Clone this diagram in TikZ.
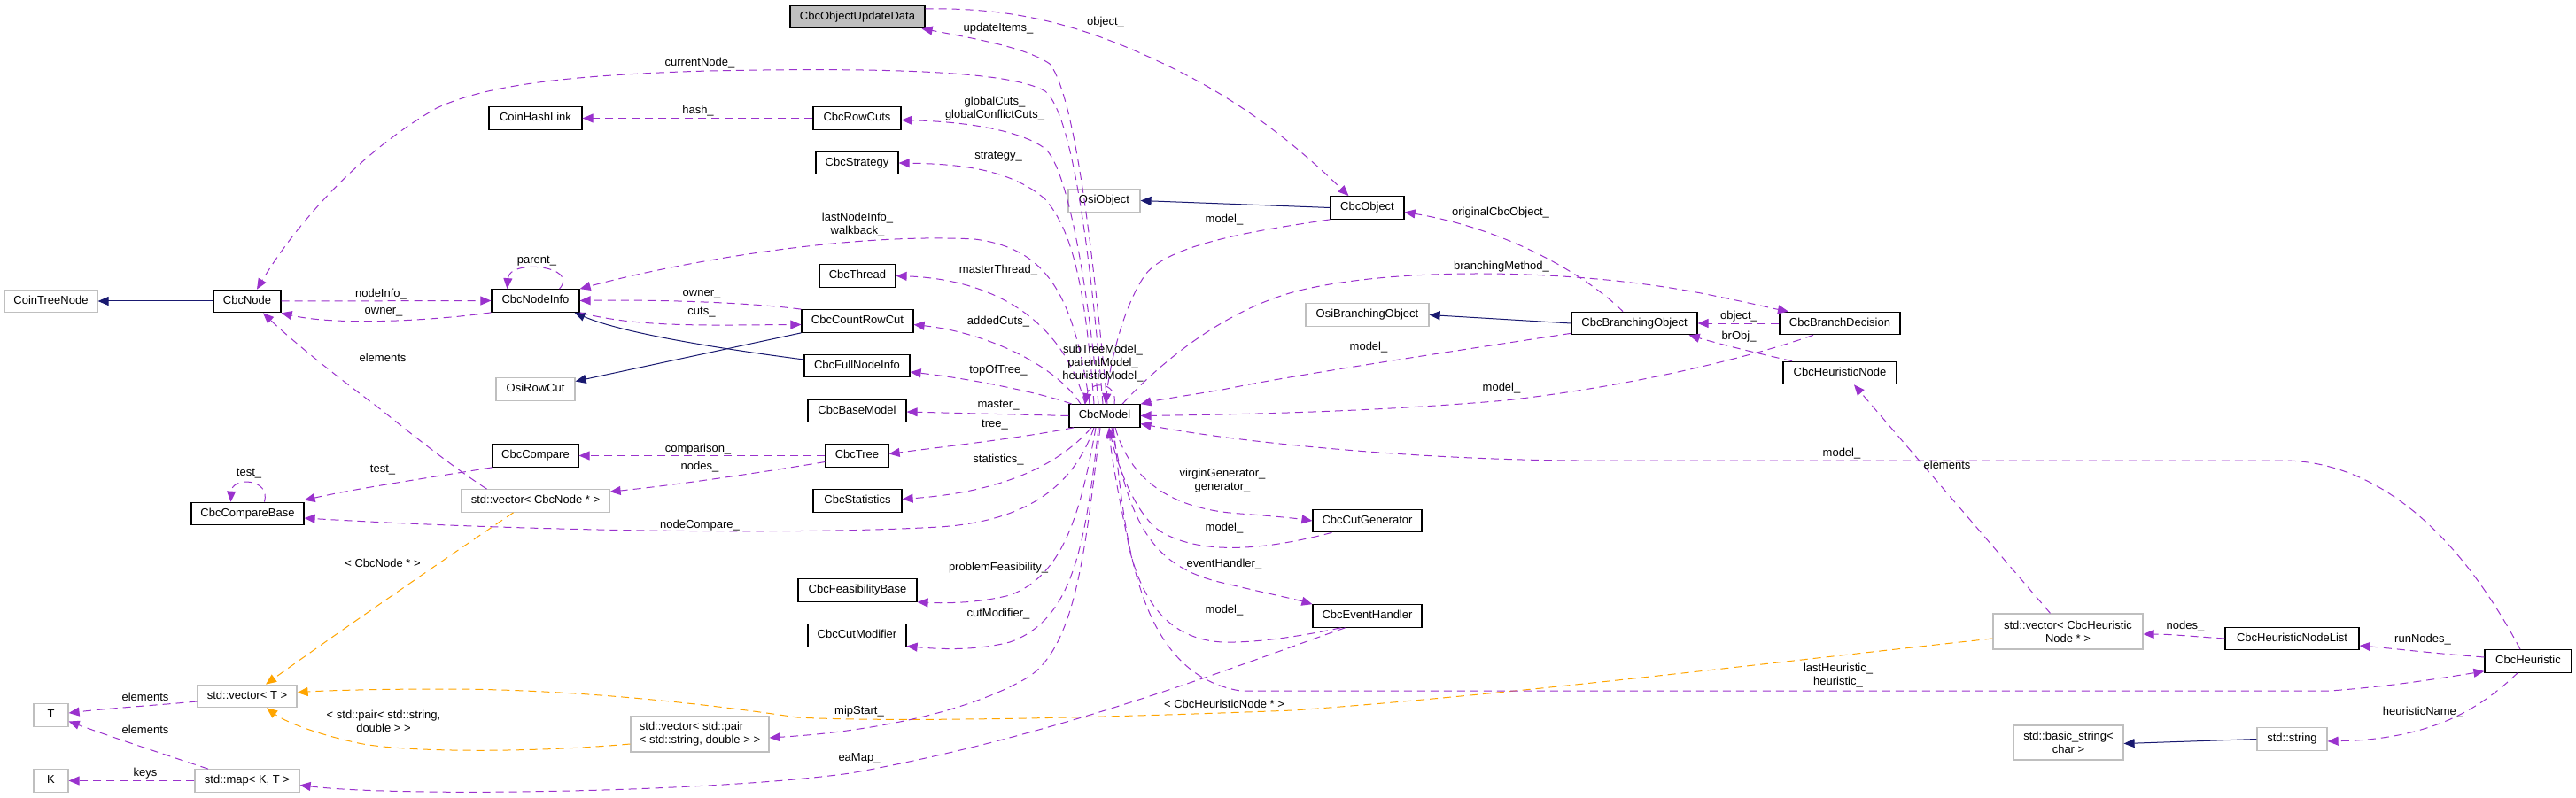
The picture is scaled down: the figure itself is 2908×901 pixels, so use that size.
\documentclass[tikz,border=0pt]{standalone}
\usepackage{fontspec}
\setmainfont{Liberation Sans}
\usetikzlibrary{arrows.meta}
\definecolor{memc}{RGB}{154,50,205}
\definecolor{tplc}{RGB}{255,165,0}
\definecolor{inhc}{RGB}{25,25,112}
\definecolor{extc}{RGB}{191,191,191}
\begin{document}
\begin{tikzpicture}[x=1pt,y=-1pt,
  font=\fontsize{13pt}{15pt}\selectfont,
  box/.style={draw=black, line width=1.2pt, minimum height=25.5pt, inner sep=0pt, text height=9.4pt, text depth=2.6pt, fill=white},
  extbox/.style={box, draw=extc},
  box2/.style={draw=extc, line width=1.2pt, inner sep=0pt, minimum height=40pt, align=center, fill=white},
  memedge/.style={draw=memc, line width=1pt, dash pattern=on 9pt off 6pt, -{Triangle[length=12pt,width=10pt,fill=memc]}},
  tpledge/.style={draw=tplc, line width=1pt, dash pattern=on 9pt off 6pt, -{Triangle[length=12pt,width=10pt,fill=tplc]}},
  inhedge/.style={draw=inhc, line width=1pt, -{Triangle[length=12pt,width=10pt,fill=inhc]}},
  lbl/.style={inner sep=0pt, align=center}
]
\useasboundingbox (0,0) rectangle (2908,901);
\fill[white] (0,0) rectangle (2908,901);

% ---------- nodes ----------
\node[extbox, minimum width=105] (CoinTreeNode) at (57.5,340) {CoinTreeNode};
\node[box, minimum width=76] (CbcNode) at (279,340) {CbcNode};
\node[box, minimum width=152, fill=extc] (CbcOUD) at (968,19) {CbcObjectUpdateData};
\node[box, minimum width=105] (CoinHashLink) at (604.5,133.5) {CoinHashLink};
\node[box, minimum width=99] (CbcRowCuts) at (967.5,133.5) {CbcRowCuts};
\node[box, minimum width=93] (CbcStrategy) at (967.5,184) {CbcStrategy};
\node[extbox, minimum width=81] (OsiObject) at (1246.5,226.5) {OsiObject};
\node[box, minimum width=83] (CbcObject) at (1543.5,234.5) {CbcObject};
\node[box, minimum width=99] (CbcNodeInfo) at (604.5,339.5) {CbcNodeInfo};
\node[box, minimum width=86] (CbcThread) at (968,311.5) {CbcThread};
\node[box, minimum width=126] (CbcCountRowCut) at (968,362.5) {CbcCountRowCut};
\node[box, minimum width=119] (CbcFullNodeInfo) at (967.5,413) {CbcFullNodeInfo};
\node[extbox, minimum width=89] (OsiRowCut) at (604.5,439.5) {OsiRowCut};
\node[box, minimum width=111] (CbcBaseModel) at (967.5,464) {CbcBaseModel};
\node[box, minimum width=80] (CbcModel) at (1247,469.5) {CbcModel};
\node[extbox, minimum width=139] (OsiBranchingObject) at (1543.5,355.5) {OsiBranchingObject};
\node[box, minimum width=142] (CbcBranchingObject) at (1845,365) {CbcBranchingObject};
\node[box, minimum width=136] (CbcBranchDecision) at (2077,365) {CbcBranchDecision};
\node[box, minimum width=128] (CbcHeuristicNode) at (2077,421) {CbcHeuristicNode};
\node[box, minimum width=127] (CbcCompareBase) at (279.5,580) {CbcCompareBase};
\node[box, minimum width=97] (CbcCompare) at (604.5,514.5) {CbcCompare};
\node[extbox, minimum width=167] (VecNode) at (604.5,565.5) {std::vector< CbcNode * >};
\node[box, minimum width=71] (CbcTree) at (967.5,514.5) {CbcTree};
\node[box, minimum width=100] (CbcStatistics) at (968,565.5) {CbcStatistics};
\node[box, minimum width=134] (CbcFeasibilityBase) at (968,666.5) {CbcFeasibilityBase};
\node[box, minimum width=111] (CbcCutModifier) at (967.5,717.5) {CbcCutModifier};
\node[extbox, minimum width=112] (VecT) at (279,786) {std::vector< T >};
\node[extbox, minimum width=39] (Tn) at (57.5,807.5) {T};
\node[extbox, minimum width=39] (Kn) at (57.5,881.5) {K};
\node[extbox, minimum width=118] (StdMap) at (279,881.5) {std::map< K, T >};
\node[box2, minimum width=156, align=left] (VecPair) at (790,829) {std::vector< std::pair\\< std::string, double > >};
\node[box, minimum width=123] (CbcCutGenerator) at (1543.5,588) {CbcCutGenerator};
\node[box, minimum width=123] (CbcEventHandler) at (1543.5,695.5) {CbcEventHandler};
\node[box2, minimum width=169] (VecHN) at (2334.5,713) {std::vector< CbcHeuristic\\Node * >};
\node[box2, minimum width=124, minimum height=39] (BasicString) at (2335,838.5) {std::basic\_string<\\char >};
\node[box, minimum width=151] (CbcHeuristicNodeList) at (2587.5,721) {CbcHeuristicNodeList};
\node[box, minimum width=98] (CbcHeuristic) at (2854,746.5) {CbcHeuristic};
\node[extbox, minimum width=79] (StdString) at (2587.5,834.5) {std::string};

% ---------- inheritance ----------
\draw[inhedge] (CbcNode.west) -- (CoinTreeNode.east);
\draw[inhedge] (CbcObject.west) -- (OsiObject.east);
\draw[inhedge] (CbcBranchingObject.west) -- (OsiBranchingObject.east);
\draw[inhedge] ([yshift=7pt]CbcFullNodeInfo.west) .. controls (800,392) and (700,375) .. ([xshift=44pt]CbcNodeInfo.south);
\draw[inhedge] (CbcCountRowCut.south west) -- ([yshift=9pt]OsiRowCut.east);
\draw[inhedge] (StdString.west) -- ([yshift=-1pt]BasicString.east);

% ---------- template instances ----------
\draw[tpledge] ([xshift=-25pt]VecNode.south) .. controls (530,612) and (380,715) .. ([xshift=21pt]VecT.north);
\draw[tpledge] ([yshift=-11pt]VecPair.west) .. controls (600,850) and (450,850) .. (400,838) .. controls (355,828) and (322,815) .. ([xshift=22pt]VecT.south);
\draw[tpledge] ([yshift=-8pt]VecHN.west) .. controls (2000,748) and (1700,785) .. (1460,802) .. controls (1200,812) and (1000,815) .. (900,810) .. controls (800,795) and (650,778) .. (500,778) .. controls (420,778) and (360,780) .. ([yshift=4pt]VecT.east);

% ---------- members ----------
\draw[memedge] (CbcNode.east) -- (CbcNodeInfo.west);
\draw[memedge] (CbcNodeInfo.south west) .. controls (490,362) and (380,368) .. (CbcNode.south east);
\draw[memedge] ([xshift=27pt]CbcNodeInfo.north) .. controls (655,300) and (575,292) .. ([xshift=-32pt]CbcNodeInfo.north);
\draw[memedge] ([xshift=-2pt]CbcModel.north) .. controls (1232,300) and (1212,130) .. (1180,103) .. controls (1140,80) and (1000,76) .. (800,80) .. controls (620,85) and (540,100) .. (493,122) .. controls (400,175) and (330,260) .. ([xshift=11pt]CbcNode.north);
\draw[memedge] (CbcRowCuts.west) -- (CoinHashLink.east);
\draw[memedge] ([xshift=-7pt]CbcModel.north) .. controls (1228,320) and (1205,190) .. (1180,168) .. controls (1150,145) and (1080,137) .. ([yshift=-2pt]CbcRowCuts.east);
\draw[memedge] ([xshift=-12pt]CbcModel.north) .. controls (1225,320) and (1210,260) .. (1180,225) .. controls (1140,190) and (1080,185) .. (CbcStrategy.east);
\draw[memedge] ([xshift=3pt]CbcModel.north) .. controls (1235,300) and (1215,110) .. (1185,72) .. controls (1160,55) and (1110,45) .. ([xshift=-4pt]CbcOUD.south east);
\draw[memedge] ([yshift=9pt]CbcOUD.east) .. controls (1150,8) and (1230,30) .. (1330,80) .. controls (1420,125) and (1480,180) .. ([xshift=-21pt]CbcObject.north);
\draw[memedge] (CbcObject.south west) .. controls (1420,260) and (1320,275) .. (1293,310) .. controls (1265,350) and (1252,420) .. ([xshift=1pt]CbcModel.north);
\draw[memedge] ([xshift=-17pt]CbcModel.north) .. controls (1212,330) and (1180,280) .. (1100,270) .. controls (950,262) and (750,300) .. (CbcNodeInfo.north east);
\draw[memedge] ([xshift=-22pt]CbcModel.north) .. controls (1200,360) and (1120,315) .. (CbcThread.east);
\draw[memedge] (CbcCountRowCut.north west) .. controls (850,342) and (750,338) .. (CbcNodeInfo.east);
\draw[memedge] (CbcNodeInfo.south east) .. controls (720,370) and (800,367) .. ([yshift=-4pt]CbcCountRowCut.west);
\draw[memedge] ([xshift=-27pt]CbcModel.north) .. controls (1190,410) and (1110,375) .. ([yshift=-4pt]CbcCountRowCut.east);
\draw[memedge] ([xshift=-37pt]CbcModel.north) .. controls (1180,445) and (1100,428) .. ([yshift=-7pt]CbcFullNodeInfo.east);
\draw[memedge] ([xshift=11pt]CbcModel.north) .. controls (1262,430) and (1230,430) .. ([xshift=-22pt]CbcModel.north);
\draw[memedge] (CbcModel.west) -- ([yshift=-1pt]CbcBaseModel.east);
\draw[memedge] ([xshift=-35pt]CbcModel.south) .. controls (1150,495) and (1060,505) .. ([yshift=2pt]CbcTree.east);
\draw[memedge] ([xshift=-15pt]CbcModel.south) .. controls (1200,520) and (1140,555) .. ([yshift=2pt]CbcStatistics.east);
\draw[memedge] ([xshift=-12pt]CbcModel.south) .. controls (1215,540) and (1170,588) .. (1060,595) .. controls (900,604) and (600,600) .. ([yshift=-5pt]CbcCompareBase.east);
\draw[memedge] ([xshift=-10pt]CbcModel.south) .. controls (1220,580) and (1200,650) .. (1140,672) .. controls (1100,682) and (1060,681) .. (CbcFeasibilityBase.south east);
\draw[memedge] ([xshift=-7pt]CbcModel.south) .. controls (1225,620) and (1210,700) .. (1140,725) .. controls (1100,735) and (1060,733) .. ([yshift=-12pt]CbcCutModifier.east);
\draw[memedge] ([xshift=-5pt]CbcModel.south) .. controls (1225,620) and (1215,730) .. (1160,765) .. controls (1100,800) and (1000,825) .. ([yshift=-4pt]VecPair.east);
\draw[memedge] (CbcTree.west) -- (CbcCompare.east);
\draw[memedge] ([yshift=-7pt]CbcTree.west) .. controls (850,535) and (760,548) .. ([yshift=-3pt]VecNode.north east);
\draw[memedge] (CbcCompare.south west) .. controls (480,540) and (400,552) .. ([yshift=2pt]CbcCompareBase.north east);
\draw[memedge] ([xshift=19pt]CbcCompareBase.north) .. controls (306,540) and (262,538) .. ([xshift=-19pt]CbcCompareBase.north);
\draw[memedge] ([xshift=-55pt]VecNode.north) .. controls (500,520) and (440,470) .. (423,457) .. controls (380,425) and (330,385) .. ([xshift=18pt]CbcNode.south);
\draw[memedge] ([yshift=-6pt]VecT.west) .. controls (180,796) and (120,800) .. ([yshift=2.5pt]Tn.east);
\draw[memedge] ([xshift=-44pt]StdMap.north) .. controls (180,850) and (120,830) .. ([yshift=-7pt]Tn.east);
\draw[memedge] (StdMap.west) -- (Kn.east);
\draw[memedge] ([xshift=-25pt]CbcEventHandler.south) .. controls (1400,750) and (1200,830) .. (960,873) .. controls (800,895) and (450,900) .. ([yshift=-5pt]StdMap.east);
\draw[memedge] ([xshift=12pt]CbcModel.south) .. controls (1275,540) and (1320,575) .. (1400,580) .. controls (1440,583) and (1460,585) .. (CbcCutGenerator.west);
\draw[memedge] ([xshift=-40pt]CbcCutGenerator.south) .. controls (1440,618) and (1360,630) .. (1310,600) .. controls (1280,580) and (1260,520) .. ([xshift=5pt]CbcModel.south);
\draw[memedge] ([xshift=8pt]CbcModel.south) .. controls (1275,590) and (1300,640) .. (1380,658) .. controls (1430,670) and (1460,676) .. (CbcEventHandler.north west);
\draw[memedge] ([xshift=-30pt]CbcEventHandler.south) .. controls (1470,718) and (1420,726) .. (1380,725) .. controls (1320,722) and (1290,680) .. (1275,620) .. controls (1265,570) and (1255,520) .. ([xshift=5pt]CbcModel.south);
\draw[memedge] ([xshift=10pt]CbcModel.south) .. controls (1270,600) and (1280,760) .. (1400,780) -- (2630,780) .. controls (2700,775) and (2760,765) .. ([yshift=2pt]CbcHeuristic.south west);
\draw[memedge] ([xshift=20pt]CbcModel.north) .. controls (1300,420) and (1380,345) .. (1480,325) .. controls (1600,300) and (1800,305) .. (1940,335) .. controls (1980,343) and (2000,348) .. ([xshift=-58pt]CbcBranchDecision.north);
\draw[memedge] ([xshift=-13pt]CbcBranchingObject.north) .. controls (1790,310) and (1700,258) .. ([yshift=-5pt]CbcObject.east);
\draw[memedge] ([yshift=2pt]CbcBranchingObject.south west) .. controls (1650,395) and (1450,425) .. (1380,440) .. controls (1330,448) and (1305,452) .. (CbcModel.north east);
\draw[memedge] ([xshift=-30pt]CbcBranchDecision.south) .. controls (1980,402) and (1850,435) .. (1700,452) .. controls (1550,465) and (1400,468) .. (CbcModel.east);
\draw[memedge] ([xshift=-9pt]CbcHeuristic.north) .. controls (2780,610) and (2690,522) .. (2580,520) -- (1780,520) .. controls (1600,519) and (1400,500) .. ([yshift=-9pt]CbcModel.east);
\draw[memedge] (CbcBranchDecision.west) -- (CbcBranchingObject.east);
\draw[memedge] ([xshift=-54pt]CbcHeuristicNode.north) .. controls (1980,398) and (1940,388) .. ([xshift=-10pt]CbcBranchingObject.south east);
\draw[memedge] ([xshift=-20pt]VecHN.north) -- ([xshift=16pt]CbcHeuristicNode.south);
\draw[memedge] (CbcHeuristicNodeList.west) .. controls (2480,719) and (2450,716) .. ([yshift=-3pt]VecHN.east);
\draw[memedge] ([yshift=4.5pt]CbcHeuristic.west) .. controls (2740,737) and (2700,732) .. ([yshift=-8pt]CbcHeuristicNodeList.east);
\draw[memedge] ([xshift=-12pt]CbcHeuristic.south) .. controls (2800,800) and (2750,830) .. (2660,836) -- ([yshift=-2.5pt]StdString.east);

% ---------- labels ----------
\node[lbl] (l1) at (430,332) {nodeInfo\_};
\node[lbl] (l2) at (433,352) {owner\_};
\node[lbl] (l3) at (432,404) {elements};
\node[lbl] (l4) at (606,295) {parent\_};
\node[lbl] (l5) at (790,71) {currentNode\_};
\node[lbl] (l6) at (788,125) {hash\_};
\node[lbl] (l7) at (1127,32) {updateItems\_};
\node[lbl] (l8) at (1248,25) {object\_};
\node[lbl] (l9) at (1123,123) {globalCuts\_\\globalConflictCuts\_};
\node[lbl] (l10) at (1127,177) {strategy\_};
\node[lbl] (l11) at (1382,248) {model\_};
\node[lbl] (l12) at (968,254) {lastNodeInfo\_\\walkback\_};
\node[lbl] (l13) at (1127,305) {masterThread\_};
\node[lbl] (l14) at (792,332) {owner\_};
\node[lbl] (l15) at (792,353) {cuts\_};
\node[lbl] (l16) at (1127,363) {addedCuts\_};
\node[lbl] (l17) at (1245,410) {subTreeModel\_\\parentModel\_\\heuristicModel\_};
\node[lbl] (l18) at (1127,418) {topOfTree\_};
\node[lbl] (l19) at (1694,240) {originalCbcObject\_};
\node[lbl] (l20) at (1695,301) {branchingMethod\_};
\node[lbl] (l21) at (1545,392) {model\_};
\node[lbl] (l22) at (1695,438) {model\_};
\node[lbl] (l23) at (1963,357) {object\_};
\node[lbl] (l24) at (1963,380) {brObj\_};
\node[lbl] (l25) at (1127,458) {master\_};
\node[lbl] (l26) at (1123,480) {tree\_};
\node[lbl] (l27) at (1127,519) {statistics\_};
\node[lbl] (l28) at (788,507) {comparison\_};
\node[lbl] (l29) at (790,527) {nodes\_};
\node[lbl] (l30) at (432,531) {test\_};
\node[lbl] (l31) at (281,535) {test\_};
\node[lbl] (l32) at (790,593) {nodeCompare\_};
\node[lbl] (l33) at (432,636) {< CbcNode * >};
\node[lbl] (l34) at (1380,543) {virginGenerator\_\\generator\_};
\node[lbl] (l35) at (1382,596) {model\_};
\node[lbl] (l36) at (1382,637) {eventHandler\_};
\node[lbl] (l37) at (1382,689) {model\_};
\node[lbl] (l38) at (1127,641) {problemFeasibility\_};
\node[lbl] (l39) at (1127,693) {cutModifier\_};
\node[lbl] (l40) at (1382,795) {< CbcHeuristicNode * >};
\node[lbl] (l41) at (970,803) {mipStart\_};
\node[lbl] (l42) at (970,856) {eaMap\_};
\node[lbl] (l43) at (164,787) {elements};
\node[lbl] (l44) at (164,824) {elements};
\node[lbl] (l45) at (164,873) {keys};
\node[lbl] (l46) at (433,814) {< std::pair< std::string,\\double > >};
\node[lbl] (l47) at (2079,512) {model\_};
\node[lbl] (l48) at (2198,525) {elements};
\node[lbl] (l49) at (2075,763) {lastHeuristic\_\\heuristic\_};
\node[lbl] (l50) at (2467,707) {nodes\_};
\node[lbl] (l51) at (2735,722) {runNodes\_};
\node[lbl] (l52) at (2735,804) {heuristicName\_};
\end{tikzpicture}
\end{document}
